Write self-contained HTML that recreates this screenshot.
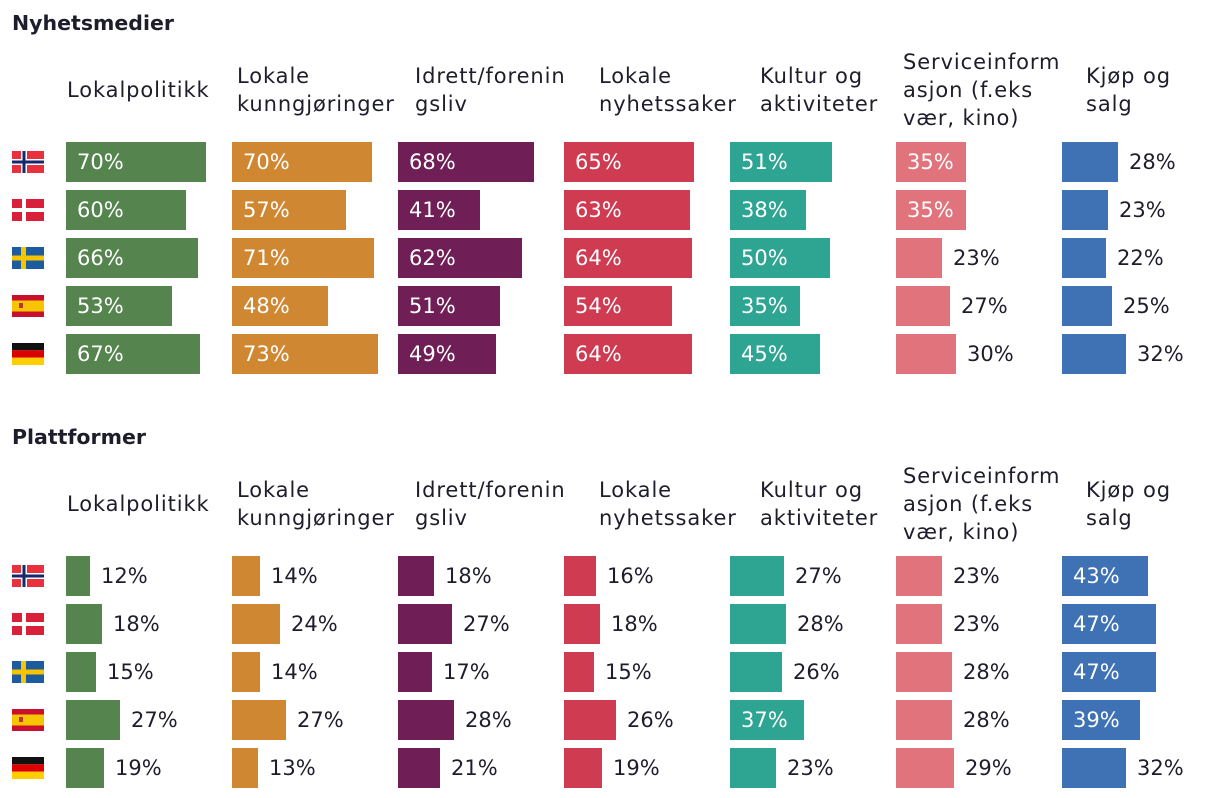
<!DOCTYPE html>
<html><head><meta charset="utf-8"><style>
body{margin:0;width:1220px;height:798px;background:#fff;font-family:"DejaVu Sans","Liberation Sans",sans-serif;color:#1d1d2b;position:relative;overflow:hidden}
.t{position:absolute;left:12px;font-weight:bold;font-size:20.5px}
.h{position:absolute;font-size:21px;line-height:28px;white-space:nowrap;transform:translateY(-50%);letter-spacing:0.9px}
.bar{position:absolute;height:40px}
.lbl{position:absolute;font-size:21px;line-height:40px}
.flag{position:absolute;width:32px;height:22px}
</style></head><body>
<div class="t" style="top:11px">Nyhetsmedier</div>
<div class="t" style="top:425px">Plattformer</div>
<script>
const categories=["Lokalpolitikk","Lokale<br>kunngjøringer","Idrett/forenin<br>gsliv","Lokale<br>nyhetssaker","Kultur og<br>aktiviteter","Serviceinform<br>asjon (f.eks<br>vær, kino)","Kjøp og<br>salg"];
const countries=["norway","denmark","sweden","spain","germany"];
const nyhetsmedier=[[70,60,66,53,67],[70,57,71,48,73],[68,41,62,51,49],[65,63,64,54,64],[51,38,50,35,45],[35,35,23,27,30],[28,23,22,25,32]];
const plattformer=[[12,18,15,27,19],[14,24,14,27,13],[18,27,17,28,21],[16,18,15,26,19],[27,28,26,37,23],[23,23,28,28,29],[43,47,47,39,32]];
const colors=["#55844f","#cf8732","#6f1f56","#cf3b50","#2ea593","#e0737c","#3f72b5"];
const colX=[66,232,398,564,730,896,1062];
const headX=[67,237,415,599,760,903,1086];
const pxPer=2;
function flagSvg(c){
 if(c==="norway")return '<svg width="32" height="22"><rect width="32" height="22" fill="#e8303f"/><rect x="9" width="6" height="22" fill="#fff"/><rect y="8" width="32" height="6" fill="#fff"/><rect x="10.5" width="3" height="22" fill="#12296b"/><rect y="9.5" width="32" height="3" fill="#12296b"/></svg>';
 if(c==="denmark")return '<svg width="32" height="22"><rect width="32" height="22" fill="#d8203a"/><rect x="10" width="4" height="22" fill="#fff"/><rect y="9" width="32" height="4" fill="#fff"/></svg>';
 if(c==="sweden")return '<svg width="32" height="22"><rect width="32" height="22" fill="#1b5b9e"/><rect x="9" width="5" height="22" fill="#f7c500"/><rect y="8.5" width="32" height="5" fill="#f7c500"/></svg>';
 if(c==="spain")return '<svg width="32" height="22"><rect width="32" height="22" fill="#c8102e"/><rect y="5.5" width="32" height="11" fill="#f7c500"/><rect x="7" y="8" width="4" height="5" fill="#b33"/></svg>';
 return '<svg width="32" height="22"><rect width="32" height="7.3" fill="#111"/><rect y="7.3" width="32" height="7.4" fill="#dd0000"/><rect y="14.7" width="32" height="7.3" fill="#ffce00"/></svg>';
}
function section(data,headY,rowY,key){
 categories.forEach((c,i)=>{
  const h=document.createElement('div');h.className='h';h.innerHTML=c;
  h.style.left=headX[i]+'px';h.style.top=headY+'px';
  
  
  document.body.appendChild(h);
 });
 countries.forEach((cn,r)=>{
  const y=rowY+r*48;
  const f=document.createElement('div');f.className='flag';f.innerHTML=flagSvg(cn);
  f.style.left='12px';f.style.top=(y+9)+'px';
  
  
  document.body.appendChild(f);
  data.forEach((col,i)=>{
   const v=col[r];const w=v*pxPer;
   const b=document.createElement('div');b.className='bar';
   b.style.left=colX[i]+'px';b.style.top=y+'px';b.style.width=w+'px';b.style.background=colors[i];
   
   
   document.body.appendChild(b);
   const l=document.createElement('div');l.className='lbl';l.textContent=v+'%';
   l.style.top=y+'px';
   if(v>=33){l.style.left=(colX[i]+11)+'px';l.style.color='#fff';}
   else{l.style.left=(colX[i]+w+11)+'px';}
   
   
   document.body.appendChild(l);
  });
 });
}
section(nyhetsmedier,90,142,'nyhetsmedier');
section(plattformer,504,556,'plattformer');
</script>
</body></html>
